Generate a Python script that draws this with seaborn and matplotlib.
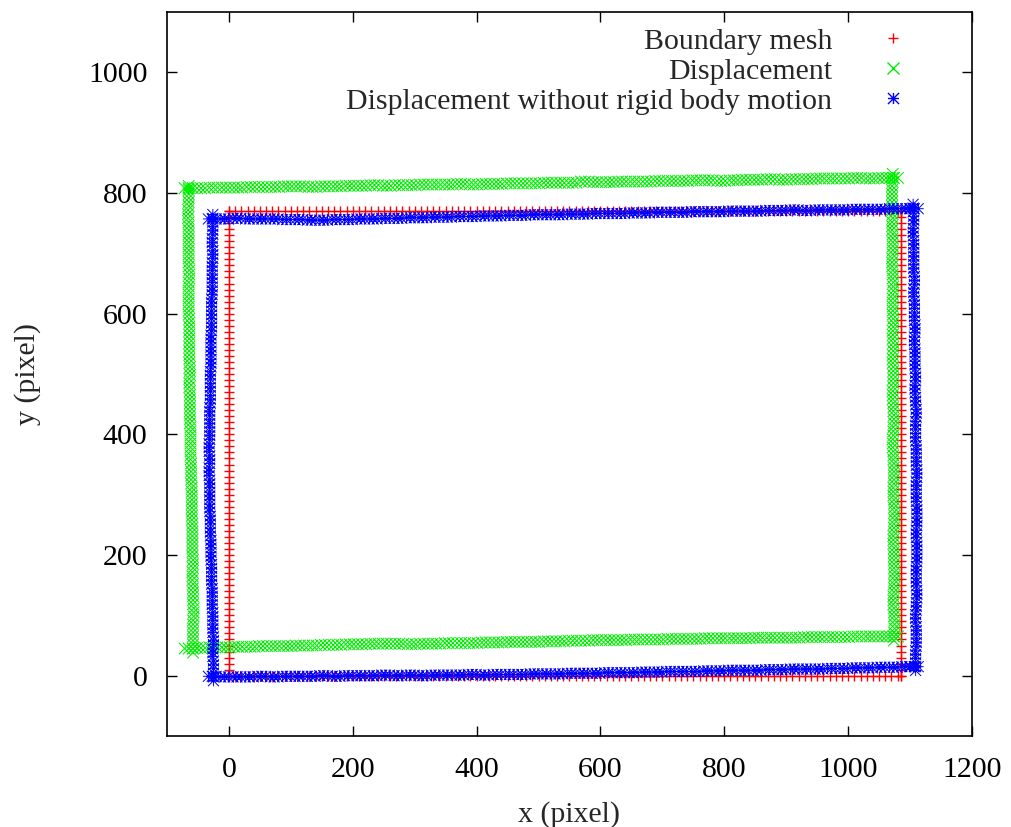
import pandas as pd
import matplotlib.pyplot as plt
import seaborn as sns
from matplotlib.path import Path
from matplotlib.lines import Line2D

sns.set_style('ticks')
plt.rcParams['font.family'] = ['Liberation Serif', 'DejaVu Serif']

# --- boundary mesh nodes (red) ---
red_x_nodes = [0, 10, 20, 30, 40, 50, 60, 70, 80, 90,
               100, 110, 120, 130, 140, 150, 160, 170, 180, 190,
               200, 210, 220, 230, 240, 250, 260, 270, 280, 290,
               300, 310, 320, 330, 340, 350, 360, 370, 380, 390,
               400, 410, 420, 430, 440, 450, 460, 470, 480, 490,
               500, 510, 520, 530, 540, 550, 560, 570, 580, 590,
               600, 610, 620, 630, 640, 650, 660, 670, 680, 690,
               700, 710, 720, 730, 740, 750, 760, 770, 780, 790,
               800, 810, 820, 830, 840, 850, 860, 870, 880, 890,
               900, 910, 920, 930, 940, 950, 960, 970, 980, 990,
               1000, 1010, 1020, 1030, 1040, 1050, 1060, 1070, 1080, 1085]
red_y_nodes = [0, 10, 20, 30, 40, 50, 60, 70, 80, 90,
               100, 110, 120, 130, 140, 150, 160, 170, 180, 190,
               200, 210, 220, 230, 240, 250, 260, 270, 280, 290,
               300, 310, 320, 330, 340, 350, 360, 370, 380, 390,
               400, 410, 420, 430, 440, 450, 460, 470, 480, 490,
               500, 510, 520, 530, 540, 550, 560, 570, 580, 590,
               600, 610, 620, 630, 640, 650, 660, 670, 680, 690,
               700, 710, 720, 730, 740, 750, 760, 770]
red_left, red_right, red_bottom, red_top = 0, 1085, 0, 770

# --- displacement (green) ---
green_h_x = [-65, -45, -25, -5, 15, 35, 55, 75, 95, 115,
             135, 155, 175, 195, 215, 235, 255, 275, 295, 315,
             335, 355, 375, 395, 415, 435, 455, 475, 495, 515,
             535, 555, 575, 595, 615, 635, 655, 675, 695, 715,
             735, 755, 775, 795, 815, 835, 855, 875, 895, 915,
             935, 955, 975, 995, 1015, 1035, 1055, 1074]
green_top_y = [808, 808, 809, 809, 809, 810, 810, 810, 811, 811,
               810, 811, 811, 812, 812, 813, 812, 813, 813, 814,
               814, 814, 815, 814, 815, 815, 816, 816, 816, 817,
               817, 817, 819, 818, 818, 819, 819, 819, 820, 820,
               820, 821, 821, 820, 821, 822, 822, 823, 822, 823,
               823, 824, 824, 824, 825, 824, 825, 825]
green_bot_y = [45, 46, 47, 47, 48, 48, 49, 49, 49, 50,
               50, 51, 51, 52, 52, 53, 53, 53, 52, 53,
               53, 54, 54, 54, 55, 55, 56, 56, 56, 57,
               57, 58, 58, 59, 59, 59, 60, 60, 60, 61,
               61, 61, 62, 62, 62, 62, 63, 63, 63, 63,
               64, 64, 64, 64, 65, 65, 65, 65]
green_left_y = [45, 65, 85, 105, 125, 145, 165, 185, 205, 225,
                245, 265, 285, 305, 325, 345, 365, 385, 405, 425,
                445, 465, 485, 505, 525, 545, 565, 585, 605, 625,
                645, 665, 685, 705, 725, 745, 765, 785, 805]
green_left_x = [-58, -58, -58, -57, -58, -58, -59, -58, -59, -59,
                -59, -60, -60, -60, -61, -61, -62, -62, -62, -63,
                -63, -63, -64, -63, -64, -64, -64, -64, -65, -65,
                -65, -64, -65, -65, -65, -65, -66, -65, -65]
green_right_y = [65, 85, 105, 125, 145, 165, 185, 205, 225, 245,
                 265, 285, 305, 325, 345, 365, 385, 405, 425, 445,
                 465, 485, 505, 525, 545, 565, 585, 605, 625, 645,
                 665, 685, 705, 725, 745, 765, 785, 805, 825]
green_right_x = [1074, 1075, 1074, 1073, 1074, 1075, 1074, 1074, 1073, 1074,
                 1075, 1074, 1073, 1074, 1074, 1073, 1072, 1073, 1074, 1073,
                 1072, 1073, 1073, 1072, 1073, 1072, 1073, 1072, 1072, 1073,
                 1072, 1071, 1072, 1072, 1071, 1072, 1071, 1071, 1072]

# --- displacement without rigid body motion (blue) ---
blue_h_x = [-27, -7, 13, 33, 53, 73, 93, 113, 133, 153,
            173, 193, 213, 233, 253, 273, 293, 313, 333, 353,
            373, 393, 413, 433, 453, 473, 493, 513, 533, 553,
            573, 593, 613, 633, 653, 673, 693, 713, 733, 753,
            773, 793, 813, 833, 853, 873, 893, 913, 933, 953,
            973, 993, 1013, 1033, 1053, 1073, 1093, 1107]
blue_top_y = [757, 757, 758, 757, 757, 757, 756, 756, 755, 755,
              756, 756, 757, 757, 758, 758, 759, 759, 760, 760,
              761, 761, 762, 762, 763, 763, 764, 764, 764, 765,
              765, 766, 766, 766, 767, 767, 768, 768, 768, 769,
              769, 769, 770, 770, 770, 771, 771, 772, 771, 772,
              772, 772, 773, 773, 773, 774, 774, 774]
blue_bot_y = [-1, -2, -2, -2, -1, -2, -1, -1, -1, 0,
              -1, 0, 0, 0, 1, 0, 1, 0, 1, 1,
              1, 2, 1, 2, 2, 2, 3, 3, 3, 4,
              4, 4, 5, 5, 5, 6, 6, 7, 7, 7,
              8, 8, 9, 9, 9, 10, 10, 11, 11, 11,
              12, 12, 13, 13, 14, 14, 15, 15]
blue_left_y = [-2, 18, 38, 58, 78, 98, 118, 138, 158, 178,
               198, 218, 238, 258, 278, 298, 318, 338, 358, 378,
               398, 418, 438, 458, 478, 498, 518, 538, 558, 578,
               598, 618, 638, 658, 678, 698, 718, 738, 758]
blue_left_x = [-25, -25, -26, -25, -26, -26, -27, -27, -28, -28,
               -29, -29, -30, -30, -31, -31, -31, -32, -31, -32,
               -31, -31, -31, -30, -30, -30, -29, -29, -29, -28,
               -28, -28, -27, -27, -27, -26, -27, -26, -26]
blue_right_y = [15, 35, 55, 75, 95, 115, 135, 155, 175, 195,
                215, 235, 255, 275, 295, 315, 335, 355, 375, 395,
                415, 435, 455, 475, 495, 515, 535, 555, 575, 595,
                615, 635, 655, 675, 695, 715, 735, 755, 775]
blue_right_x = [1109, 1109, 1110, 1110, 1109, 1110, 1111, 1110, 1110, 1111,
                1111, 1110, 1111, 1111, 1110, 1110, 1111, 1110, 1110, 1109,
                1109, 1110, 1109, 1108, 1109, 1108, 1108, 1107, 1108, 1107,
                1107, 1106, 1107, 1106, 1106, 1106, 1105, 1106, 1105]

x_ticks = [0, 200, 400, 600, 800, 1000, 1200]
y_ticks = [0, 200, 400, 600, 800, 1000]

RED, GREEN, BLUE = '#ff0000', '#00ee00', '#0000ff'


def edge_frames(h_x, top_y, bot_y, left_y, left_x, right_y, right_x):
    # horizontal edges (top+bottom) and vertical edges (left+right) of one boundary
    horiz = pd.DataFrame({'x': list(h_x) + list(h_x), 'y': list(top_y) + list(bot_y)})
    vert = pd.DataFrame({'x': list(left_x) + list(right_x), 'y': list(left_y) + list(right_y)})
    return horiz, vert


# gnuplot glyphs as line segments in a unit box
X_SEGS = [((-0.5, -0.5), (0.5, 0.5)), ((-0.5, 0.5), (0.5, -0.5))]
STAR_SEGS = X_SEGS + [((-0.5, 0), (0.5, 0)), ((0, -0.5), (0, 0.5))]


def chain_marker(segs, vertical=False, step=0.35):
    # three overlapping copies of a glyph, so a dense run of points reads as a band
    verts, codes = [], []
    for off in (-step, 0.0, step):
        for (x0, y0), (x1, y1) in segs:
            if vertical:
                verts += [(x0, y0 + off), (x1, y1 + off)]
            else:
                verts += [(x0 + off, y0), (x1 + off, y1)]
            codes += [Path.MOVETO, Path.LINETO]
    return Path(verts, codes)


red_h, red_v = edge_frames(red_x_nodes, [red_top] * len(red_x_nodes),
                           [red_bottom] * len(red_x_nodes),
                           red_y_nodes, [red_left] * len(red_y_nodes),
                           red_y_nodes, [red_right] * len(red_y_nodes))
green_h, green_v = edge_frames(green_h_x, green_top_y, green_bot_y,
                               green_left_y, green_left_x, green_right_y, green_right_x)
blue_h, blue_v = edge_frames(blue_h_x, blue_top_y, blue_bot_y,
                             blue_left_y, blue_left_x, blue_right_y, blue_right_x)

fig = plt.figure(figsize=(10.11, 8.27), dpi=100)
ax = fig.add_axes([0.1652, 0.110, 0.7962, 0.8755])

for df in (red_h, red_v):
    sns.scatterplot(data=df, x='x', y='y', ax=ax, marker='+', color=RED,
                    s=49, linewidth=1.0)
for df, vert in ((green_h, False), (green_v, True)):
    sns.scatterplot(data=df, x='x', y='y', ax=ax, marker=chain_marker(X_SEGS, vert),
                    color=GREEN, edgecolor=GREEN, facecolor='none', s=200, linewidth=0.75)
for df, vert in ((blue_h, False), (blue_v, True)):
    sns.scatterplot(data=df, x='x', y='y', ax=ax, marker=chain_marker(STAR_SEGS, vert),
                    color=BLUE, edgecolor=BLUE, facecolor='none', s=180, linewidth=0.7)

ax.set_xlim(-100, 1200)
ax.set_ylim(-100, 1100)
ax.set_xticks(x_ticks)
ax.set_yticks(y_ticks)
ax.tick_params(axis='both', direction='in', length=7, width=1.0, top=True, right=True,
               labelsize=21.5, colors='black')
ax.tick_params(axis='x', pad=15)
ax.tick_params(axis='y', pad=14)
for sp in ax.spines.values():
    sp.set_linewidth(1.2)
    sp.set_color('black')

ax.set_xlabel('x (pixel)', fontsize=21.5)
ax.set_ylabel('y (pixel)', fontsize=21.5)
ax.xaxis.set_label_coords(0.5, -0.0895)
ax.yaxis.set_label_coords(-0.157, 0.5)

handles = [
    Line2D([], [], ls='none', marker='+', color=RED, ms=7, mew=1.0),
    Line2D([], [], ls='none', marker='x', color=GREEN, ms=8, mew=1.0),
    Line2D([], [], ls='none', marker=Path([p for s in STAR_SEGS for p in s],
                                          [Path.MOVETO, Path.LINETO] * 4),
           color=BLUE, ms=8, mew=1.0),
]
labels = ['Boundary mesh', 'Displacement', 'Displacement without rigid body motion']
ax.legend(handles, labels, loc='upper right', bbox_to_anchor=(0.939, 0.978), frameon=False,
          markerfirst=False, fontsize=21.5, borderpad=0, borderaxespad=0,
          handlelength=2.0, handletextpad=1.04, labelspacing=0.1)

fig.savefig('out.png', dpi=100)
